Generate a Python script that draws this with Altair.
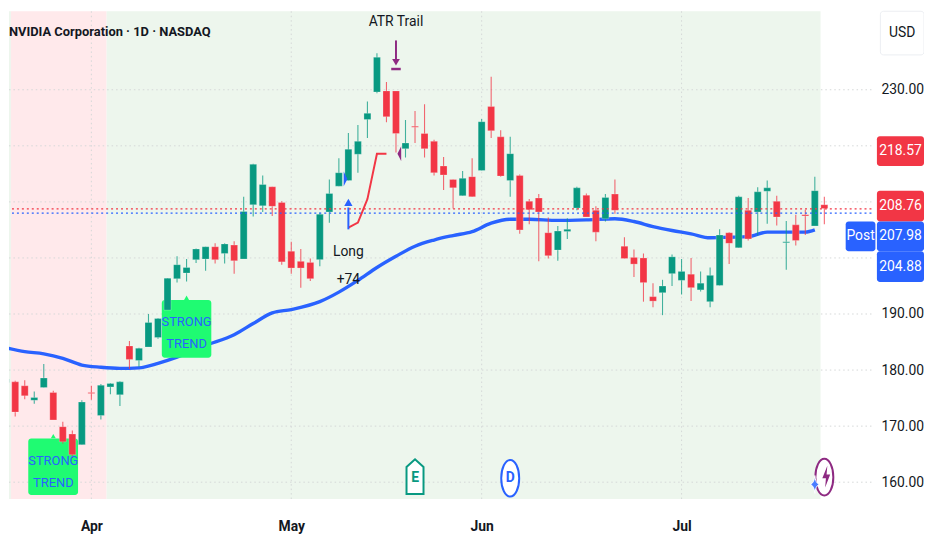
import altair as alt
import pandas as pd

FONT = "Roboto, sans-serif"
GREEN, RED, BLUE, PURPLE, INK = "#089981", "#f23645", "#2962ff", "#8e2a82", "#131722"

opens = [177.8,177.9,177.2,174.6,176.9,176.0,169.9,168.6,166.7,176.0,171.9,177.0,175.6,184.3,181.7,184.1,185.8,190.7,196.3,197.3,199.7,199.8,202.0,200.8,202.3,
         199.8,209.5,209.3,212.7,209.9,201.2,199.4,199.2,199.7,208.2,212.8,213.8,218.5,224.7,229.6,229.8,229.8,219.5,223.5,222.2,220.8,216.4,214.0,211.1,214.5,
         215.6,227.0,221.6,213.8,214.7,210.1,210.7,204.5,201.4,204.7,208.9,211.2,208.5,207.0,211.4,202.1,200.1,200.0,193.1,193.8,197.2,196.0,197.1,194.3,192.2,
         195.1,204.5,201.8,208.5,208.2,211.9,210.1,202.7,205.9,207.7,205.7,209.5]
closes = [178.4,172.5,175.4,175.1,178.6,171.1,167.2,164.9,174.3,175.8,177.3,177.6,177.9,181.9,183.9,188.5,189.2,196.4,198.8,198.3,201.6,202.0,199.7,202.5,199.5,
          208.3,216.7,213.1,209.2,199.3,198.2,198.2,196.3,207.8,211.5,215.2,219.4,220.8,225.8,235.8,225.2,222.2,220.5,223.3,219.5,215.2,214.8,212.5,214.2,210.9,
          224.3,222.7,214.6,218.6,205.0,208.6,208.2,200.4,204.8,205.1,212.5,207.3,204.6,210.8,208.5,199.9,198.9,195.6,192.3,195.0,200.2,197.6,194.7,195.5,196.9,
          204.1,202.6,210.9,203.4,211.8,212.5,207.3,202.9,203.1,207.5,212.0,208.8]
highs = [179.8,178.1,178.2,176.2,181.1,176.3,170.8,169.2,174.6,177.2,177.5,177.7,178.0,185.2,184.0,190.0,189.3,196.4,200.3,199.8,201.7,202.0,202.6,202.6,203.0,
         210.9,216.8,214.7,212.7,210.1,202.9,201.6,199.9,208.1,214.0,217.8,222.3,223.7,227.9,236.5,231.4,229.8,224.6,226.2,227.4,221.1,218.0,214.0,215.5,217.8,
         224.8,232.3,222.8,221.6,214.9,210.5,211.4,207.2,205.7,207.1,212.7,211.5,209.2,211.4,214.0,203.7,201.5,200.8,195.5,196.1,200.6,199.8,200.0,197.6,198.3,
         205.1,204.6,211.1,210.7,212.6,213.8,211.1,206.6,207.7,208.6,214.5,210.9]
lows = [175.7,171.7,174.8,174.0,176.9,171.1,166.9,164.3,166.7,174.7,171.2,175.7,173.6,180.2,180.6,184.1,185.6,190.7,195.6,195.8,199.1,197.7,199.0,199.0,197.2,
        199.8,207.4,208.2,207.5,198.8,197.2,194.7,195.9,198.5,206.3,212.8,213.8,215.2,221.4,229.4,224.2,218.8,217.9,220.5,217.9,214.7,212.1,208.8,211.1,210.9,
        215.6,221.4,214.5,210.9,204.3,206.0,199.4,199.9,199.5,203.4,208.5,207.3,203.0,206.5,207.9,199.9,196.6,192.2,191.2,189.8,195.0,193.5,192.3,194.0,191.2,
        195.1,198.9,201.8,203.1,204.0,206.1,205.8,197.9,202.2,204.1,205.7,206.0]

ma_i = [0,2,4,6,8,10,12,14,16,18,21,24,26,28,30,33,35,37,39,41,43,45,47,49,51,53,55,58,61,64,66,68,70,72,74,76,78,80,82,84,85]
ma_p = [184.0,183.3,182.9,182.1,180.9,180.5,180.3,180.4,181.2,182.3,184.4,186.3,188.3,190.2,190.8,192.2,193.9,196.0,198.3,200.3,202.1,203.2,204.0,204.7,206.2,
        206.9,206.9,206.7,206.8,207.0,206.5,205.6,204.9,204.3,203.6,203.7,203.8,204.6,204.6,204.6,205.0]
trail_i = [36,37,38,39,40]
trail_p = [205.4,206.3,210.5,218.6,218.6]

price_ticks = [160,170,180,190,200,210,220,230]
axis_ticks = [160,170,180,190,230]
month_pos = [9,30,50,71]
month_names = ["Apr","May","Jun","Jul"]
last_price, post_price = 208.76, 207.98

SX = alt.Scale(domain=[0.346,90.95], nice=False, zero=False, padding=0)
SY = alt.Scale(domain=[157,244], nice=False, zero=False, padding=0)

lab = "{" + ",".join(f"'{p}':'{n}'" for p,n in zip(month_pos,month_names)) + "}"
AX = alt.Axis(values=month_pos,grid=False,ticks=False,domain=False,
        labelExpr=lab+"[datum.value]",labelFont=FONT,labelFontSize=14,labelFontWeight="bold",labelColor=INK,labelPadding=21,labelOverlap=False,labelFlush=False)
AY = alt.Axis(orient="right",values=axis_ticks,grid=False,ticks=False,domain=False,
        format=".2f",labelFont=FONT,labelFontSize=14,labelColor=INK,labelAlign="center",labelPadding=31,labelOverlap=False,labelFlush=False)

def X(f="i", **k):
    return alt.X(f"{f}:Q", scale=SX, title=None, axis=AX, **k)
def Y(f="p", **k):
    return alt.Y(f"{f}:Q", scale=SY, title=None, axis=AY, **k)

df = pd.DataFrame({"i":range(len(opens)),"o":opens,"c":closes,"h":highs,"l":lows})
df["col"] = [GREEN if c>=o else RED for o,c in zip(opens,closes)]
col = alt.Color("col:N", scale=None, legend=None)

# backgrounds
bands = pd.DataFrame({"a":[0.346,0.55,10.6],"b":[0.55,10.6,85.6],"f":["#edf6ed","#ffe9eb","#edf6ed"]})
bg = alt.Chart(bands).mark_rect().encode(x=X("a"), x2="b:Q", color=alt.Color("f:N",scale=None,legend=None))

gcol = "#d4d8d8"
grid_h = alt.Chart(pd.DataFrame({"p":price_ticks})).mark_rule(color=gcol,strokeDash=[1.5,3],strokeWidth=1).encode(y=Y())
grid_v = alt.Chart(pd.DataFrame({"i":month_pos})).mark_rule(color=gcol,strokeDash=[1.5,3],strokeWidth=1).encode(x=X())

ma = alt.Chart(pd.DataFrame({"i":ma_i,"p":ma_p})).mark_line(color=BLUE,strokeWidth=3.4,clip=True,interpolate="monotone").encode(x=X(),y=Y())
trail = alt.Chart(pd.DataFrame({"i":trail_i,"p":trail_p})).mark_line(color=RED,strokeWidth=2).encode(x=X(),y=Y())

# strong-trend boxes
boxes = pd.DataFrame({"a":[2.37,16.4],"b":[7.6,21.6],"lo":[157.7,182.2],"hi":[167.8,192.5]})
box = alt.Chart(boxes).mark_rect(color="#1ffb72",cornerRadius=3).encode(x=X("a"),x2="b:Q",y=Y("lo"),y2="hi:Q")
peak = alt.Chart(pd.DataFrame({"i":[5,19],"p":[168.2,192.9]})).mark_point(shape="triangle-up",filled=True,size=25,color="#1ffb72",opacity=1).encode(x=X(),y=Y())

wick = alt.Chart(df).mark_rule(strokeWidth=1.1,opacity=0.75,clip=True).encode(x=X(),y=Y("l"),y2="h:Q",color=col)
body = alt.Chart(df).mark_bar(size=7,clip=True,stroke="white",strokeWidth=0.4,strokeOpacity=0.6).encode(x=X(),y=Y("o"),y2="c:Q",color=col)

strong = pd.DataFrame({"i":[5,19,5,19],"p":[163.7,188.6,159.8,184.7],"t":["STRONG","STRONG","TREND","TREND"]})
strong_t = alt.Chart(strong).mark_text(font=FONT,fontSize=13,color=BLUE).encode(x=X(),y=Y(),text="t:N")

# signals
up_stem = alt.Chart(pd.DataFrame({"i":[36],"p":[205.1],"q":[209.0]})).mark_rule(color=BLUE,strokeWidth=2).encode(x=X(),y=Y(),y2="q:Q")
up_head = alt.Chart(pd.DataFrame({"i":[36],"p":[209.9]})).mark_point(shape="triangle-up",filled=True,size=70,color=BLUE,opacity=1).encode(x=X(),y=Y())
dn_stem = alt.Chart(pd.DataFrame({"i":[41],"p":[238.8],"q":[235.0]})).mark_rule(color=PURPLE,strokeWidth=2).encode(x=X(),y=Y(),y2="q:Q")
dn_head = alt.Chart(pd.DataFrame({"i":[41],"p":[234.9]})).mark_point(shape="triangle-down",filled=True,size=60,color=PURPLE,opacity=1).encode(x=X(),y=Y())
dn_bar = alt.Chart(pd.DataFrame({"a":[40.5],"b":[41.5],"p":[233.7]})).mark_rule(color=PURPLE,strokeWidth=2.5).encode(x=X("a"),x2="b:Q",y=Y())
tri_r = alt.Chart(pd.DataFrame({"i":[35.7],"p":[214.1]})).mark_point(shape="M-.25,-1 L.25,0 L-.25,1 Z",filled=True,size=225,color=BLUE,opacity=1).encode(x=X(),y=Y())
tri_l = alt.Chart(pd.DataFrame({"i":[41.35],"p":[218.6]})).mark_point(shape="M.25,-1 L-.25,0 L.25,1 Z",filled=True,size=225,color=PURPLE,opacity=1).encode(x=X(),y=Y())

notes = pd.DataFrame({"i":[36,36,41],"p":[201.0,196.0,242.0],"t":["Long","+74","ATR Trail"]})
notes_t = alt.Chart(notes).mark_text(font=FONT,fontSize=14,color=INK).encode(x=X(),y=Y(),text="t:N")

dots_r = alt.Chart(pd.DataFrame({"p":[last_price]})).mark_rule(color=RED,strokeDash=[2,3],strokeWidth=1.2).encode(y=Y())
dots_b = alt.Chart(pd.DataFrame({"p":[post_price]})).mark_rule(color=BLUE,strokeDash=[2,3],strokeWidth=1.2).encode(y=Y())

# event icons
ELLIPSE = "M0,-1 A.49,1 0 1 1 0,1 A.49,1 0 1 1 0,-1 Z"
e_tag = alt.Chart(pd.DataFrame({"i":[43],"p":[161.0]})).mark_point(shape="M-.49,1 L-.49,-.55 L0,-1 L.49,-.55 L.49,1 Z",size=1225,filled=True,fill="white",stroke=GREEN,strokeWidth=2,opacity=1).encode(x=X(),y=Y())
e_txt = alt.Chart(pd.DataFrame({"i":[43],"p":[160.7],"t":["E"]})).mark_text(font=FONT,fontSize=14,fontWeight="bold",color=GREEN).encode(x=X(),y=Y(),text="t:N")
d_circ = alt.Chart(pd.DataFrame({"i":[53],"p":[160.7]})).mark_point(shape=ELLIPSE,size=1369,filled=True,fill="white",stroke=BLUE,strokeWidth=2,opacity=1).encode(x=X(),y=Y())
d_txt = alt.Chart(pd.DataFrame({"i":[53],"p":[160.7],"t":["D"]})).mark_text(font=FONT,fontSize=14,fontWeight="bold",color=BLUE).encode(x=X(),y=Y(),text="t:N")
b_circ = alt.Chart(pd.DataFrame({"i":[86],"p":[160.9]})).mark_point(shape=ELLIPSE,size=1369,filled=True,fill="white",stroke=PURPLE,strokeWidth=2,opacity=1).encode(x=X(),y=Y())
bolt = alt.Chart(pd.DataFrame({"i":[86.2],"p":[161.0]})).mark_point(shape="M.1,-1 L-.36,.15 L-.03,.15 L-.1,1 L.36,-.2 L.03,-.2 Z",size=484,filled=True,color=PURPLE,opacity=1).encode(x=X(),y=Y())
spark = alt.Chart(pd.DataFrame({"i":[85],"p":[159.6]})).mark_point(shape="M0,-1 Q.07,-.15 .5,0 Q.07,.15 0,1 Q-.07,.15 -.5,0 Q-.07,-.15 0,-1 Z",size=324,filled=True,fill="#4a7dff",stroke="white",strokeWidth=1,opacity=1).encode(x=X(),y=Y())

# right-hand price tags (image px minus the 8px page margin)
def tag(label, x0, x1, y0, y1, fill, tcol="white", stroke=None):
    d = pd.DataFrame({"t":[label]})
    kw = {"stroke":stroke,"strokeWidth":1} if stroke else {}
    r = alt.Chart(d).mark_rect(color=fill,cornerRadius=3,**kw).encode(x=alt.value(x0),x2=alt.value(x1),y=alt.value(y0),y2=alt.value(y1))
    t = alt.Chart(d).mark_text(font=FONT,fontSize=14,color=tcol).encode(x=alt.value((x0+x1)/2),y=alt.value((y0+y1)/2),text="t:N")
    return r+t

tags = (tag("USD",879,923,0,44,"white",INK,"#eceef2")
        + tag("218.57",875.5,923,126,156,RED)
        + tag("208.76",875.5,923,181,212,RED)
        + tag("204.88",875.5,923,242,273,BLUE)
        + tag("207.98",875.5,923,212,242,BLUE)
        + tag("Post",844,874,212,242,BLUE))

title = alt.Chart(pd.DataFrame({"t":["NVIDIA Corporation · 1D · NASDAQ"]})).mark_text(
    font=FONT,fontSize=13,fontWeight="bold",color=INK,align="left").encode(x=alt.value(0),y=alt.value(21),text="t:N")

chart = alt.layer(bg,grid_h,grid_v,ma,box,peak,wick,body,trail,strong_t,
                  up_stem,up_head,dn_stem,dn_head,dn_bar,tri_r,tri_l,notes_t,dots_r,dots_b,
                  e_tag,e_txt,d_circ,d_txt,b_circ,bolt,spark,tags,title
    ).properties(width=924,height=528,padding=0,background="white",
                 autosize=alt.AutoSizeParams(type="fit", contains="padding")
    ).configure_view(stroke=None)

chart.save("out.html", embed_options={"renderer": "svg", "actions": False})
